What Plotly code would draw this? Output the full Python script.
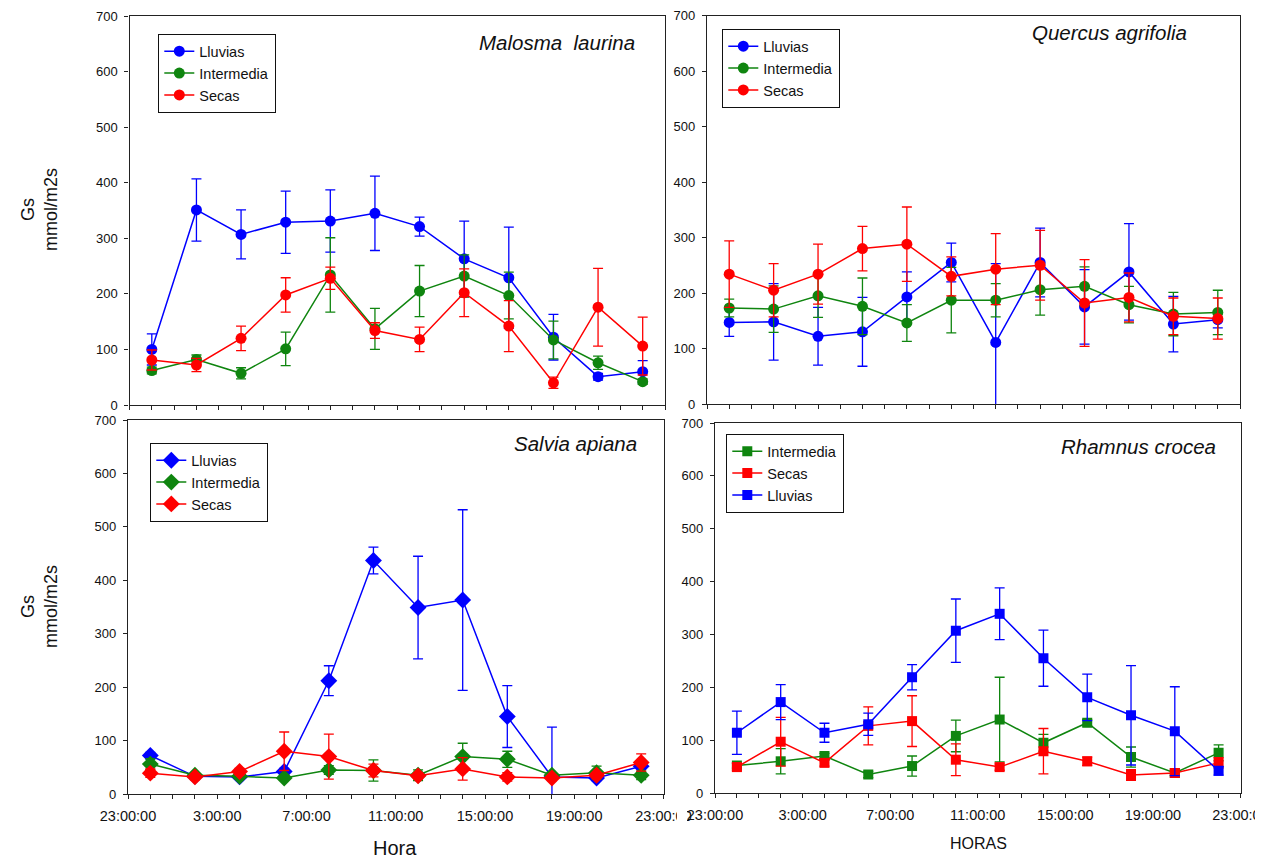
import plotly.graph_objects as go

# Sampling times, hours after midnight (axis spans 23:00 of the previous day to 23:00)
hours = [0, 2, 4, 6, 8, 10, 12, 14, 16, 18, 20, 22]
tick_hours = [-1, 3, 7, 11, 15, 19, 23]
tick_labels = ["23:00:00", "3:00:00", "7:00:00", "11:00:00", "15:00:00", "19:00:00", "23:00:00"]

# Malosma laurina
ml_lluvias = [100, 351, 307, 329, 331, 345, 321, 263, 229, 122, 51, 60]
ml_lluvias_err = [28, 56, 44, 56, 56, 67, 17, 68, 91, 41, 6, 20]
ml_intermedia = [62, 82, 57, 101, 234, 137, 205, 232, 197, 117, 76, 42]
ml_intermedia_err = [6, 8, 10, 30, 67, 37, 46, 38, 42, 34, 12, 5]
ml_secas = [81, 72, 120, 198, 228, 134, 118, 202, 142, 40, 176, 106]
ml_secas_err = [18, 12, 22, 31, 20, 14, 22, 43, 46, 10, 70, 52]

# Quercus agrifolia
qa_lluvias = [147, 148, 122, 130, 193, 255, 111, 255, 175, 238, 144, 152]
qa_lluvias_err = [25, 69, 52, 62, 45, 35, 142, 62, 67, 87, 50, 15]
qa_intermedia = [173, 171, 195, 176, 146, 187, 187, 206, 212, 179, 162, 165]
qa_intermedia_err = [16, 42, 39, 51, 33, 59, 30, 46, 35, 33, 39, 40]
qa_secas = [234, 205, 234, 280, 288, 230, 243, 250, 182, 192, 158, 154]
qa_secas_err = [60, 48, 54, 40, 67, 35, 64, 63, 78, 44, 33, 37]

# Salvia apiana
sa_lluvias = [72, 33, 32, 42, 212, 437, 349, 363, 145, 32, 30, 52]
sa_lluvias_err = [6, 3, 3, 6, 28, 25, 96, 169, 58, 93, 5, 5]
sa_intermedia = [56, 35, 33, 30, 45, 44, 35, 70, 65, 35, 40, 35]
sa_intermedia_err = [10, 5, 5, 3, 8, 20, 10, 25, 15, 5, 12, 8]
sa_secas = [39, 32, 42, 80, 70, 44, 34, 47, 32, 30, 35, 59]
sa_secas_err = [8, 5, 6, 36, 42, 12, 6, 21, 8, 5, 5, 16]

# Rhamnus crocea
rc_intermedia = [52, 60, 70, 35, 51, 108, 139, 95, 133, 68, 38, 76]
rc_intermedia_err = [5, 24, 5, 6, 19, 30, 80, 16, 6, 19, 4, 15]
rc_secas = [49, 97, 57, 127, 136, 63, 49, 79, 60, 34, 38, 57]
rc_secas_err = [7, 46, 6, 36, 48, 30, 6, 43, 8, 10, 5, 10]
rc_lluvias = [114, 172, 114, 130, 219, 307, 339, 255, 181, 147, 117, 42]
rc_lluvias_err = [41, 33, 18, 21, 24, 60, 49, 53, 44, 94, 84, 8]

W, H = 1269, 858
FONT = "Liberation Sans, Arial, sans-serif"
BLUE, GREEN, RED = "#0000ff", "#0f850f", "#ff0000"


def px(x):
    return x / W


def py(y):
    return 1 - y / H


# panel frames in pixels: (left, right, top, bottom)
panels = {
    1: (129.5, 665, 16, 405),
    2: (707, 1240, 15.5, 404),
    3: (128, 663.5, 420, 794),
    4: (715, 1240.5, 423, 793),
}

fig = go.Figure()


def add_series(n, name, y, err, color, symbol, size, legend):
    sfx = "" if n == 1 else str(n)
    fig.add_trace(go.Scatter(
        x=hours, y=y, name=name, mode="lines+markers",
        xaxis="x" + sfx, yaxis="y" + sfx, legend=legend,
        line=dict(color=color, width=1.5),
        marker=dict(color=color, symbol=symbol, size=size),
        error_y=dict(type="data", array=err, visible=True, color=color,
                     thickness=1.3, width=5),
    ))


add_series(1, "Lluvias", ml_lluvias, ml_lluvias_err, BLUE, "circle", 11, "legend")
add_series(1, "Intermedia", ml_intermedia, ml_intermedia_err, GREEN, "circle", 11, "legend")
add_series(1, "Secas", ml_secas, ml_secas_err, RED, "circle", 11, "legend")

add_series(2, "Lluvias", qa_lluvias, qa_lluvias_err, BLUE, "circle", 11, "legend2")
add_series(2, "Intermedia", qa_intermedia, qa_intermedia_err, GREEN, "circle", 11, "legend2")
add_series(2, "Secas", qa_secas, qa_secas_err, RED, "circle", 11, "legend2")

add_series(3, "Lluvias", sa_lluvias, sa_lluvias_err, BLUE, "diamond", 13, "legend3")
add_series(3, "Intermedia", sa_intermedia, sa_intermedia_err, GREEN, "diamond", 13, "legend3")
add_series(3, "Secas", sa_secas, sa_secas_err, RED, "diamond", 13, "legend3")

add_series(4, "Intermedia", rc_intermedia, rc_intermedia_err, GREEN, "square", 10, "legend4")
add_series(4, "Secas", rc_secas, rc_secas_err, RED, "square", 10, "legend4")
add_series(4, "Lluvias", rc_lluvias, rc_lluvias_err, BLUE, "square", 10, "legend4")

layout = dict(
    width=W, height=H,
    margin=dict(l=0, r=0, t=0, b=0, autoexpand=False),
    paper_bgcolor="white", plot_bgcolor="white",
    font=dict(family=FONT, color="#111111"),
    showlegend=True,
)

for n, (l, r, t, b) in panels.items():
    sfx = "" if n == 1 else str(n)
    bottom_row = n in (3, 4)
    layout["xaxis" + sfx] = dict(
        domain=[px(l), px(r)], anchor="y" + sfx,
        range=[-1, 23], tickmode="array", tickvals=tick_hours,
        ticktext=tick_labels if bottom_row else [""] * len(tick_hours),
        showticklabels=bottom_row,
        ticks="outside", ticklen=4, tickwidth=1, tickcolor="#222222",
        minor=dict(dtick=1, tick0=-1, ticks="outside", ticklen=4,
                   tickwidth=1, tickcolor="#222222", showgrid=False),
        showline=True, linecolor="#222222", linewidth=1.3, mirror=True,
        showgrid=False, zeroline=False, fixedrange=True,
        tickfont=dict(size=14.5, family=FONT, color="#111111"),
        ticklabelstandoff=4,
    )
    layout["yaxis" + sfx] = dict(
        domain=[py(b), py(t)], anchor="x" + sfx,
        range=[0, 700], tickmode="linear", tick0=0, dtick=100,
        ticks="outside", ticklen=4, tickwidth=1, tickcolor="#222222",
        showline=True, linecolor="#222222", linewidth=1.3, mirror=True,
        showgrid=False, zeroline=False, fixedrange=True,
        tickfont=dict(size=13, family=FONT, color="#111111"),
        ticklabelstandoff=4,
    )

legend_style = dict(
    xanchor="left", yanchor="top", bgcolor="white",
    bordercolor="#111111", borderwidth=1.3,
    font=dict(size=14.5, family=FONT, color="#111111"),
    itemwidth=30, tracegroupgap=0,
)
layout["legend"] = dict(x=px(158), y=py(34), **legend_style)
layout["legend2"] = dict(x=px(722), y=py(29), **legend_style)
layout["legend3"] = dict(x=px(150), y=py(443), **legend_style)
layout["legend4"] = dict(x=px(726), y=py(434), **legend_style)

fig.update_layout(**layout)

# species names inside each panel
species = [
    ("Malosma  laurina", 557, 42),
    ("Quercus agrifolia", 1109, 33),
    ("Salvia apiana", 575, 443),
    ("Rhamnus crocea", 1138, 447),
]
for text, cx, cy in species:
    fig.add_annotation(
        text="<i>" + text + "</i>", x=px(cx), y=py(cy), xref="paper", yref="paper",
        showarrow=False, xanchor="center", yanchor="middle",
        font=dict(size=20.5, family=FONT, color="#111111"),
    )

# y-axis titles of the left column
for cy in (210, 607):
    fig.add_annotation(
        text="Gs<br>mmol/m2s", x=px(39), y=py(cy), xref="paper", yref="paper",
        showarrow=False, textangle=-90, xanchor="center", yanchor="middle",
        font=dict(size=18, family=FONT, color="#111111"),
    )

# x-axis titles
fig.add_annotation(text="Hora", x=px(395), y=py(848), xref="paper", yref="paper",
                   showarrow=False, xanchor="center", yanchor="middle",
                   font=dict(size=20, family=FONT, color="#111111"))
fig.add_annotation(text="HORAS", x=px(978), y=py(843), xref="paper", yref="paper",
                   showarrow=False, xanchor="center", yanchor="middle",
                   font=dict(size=16, family=FONT, color="#111111"))

# trim the last tick label of each bottom panel at the panel edge
for x0, x1 in ((677, 687), (1255, 1269)):
    fig.add_shape(type="rect", xref="paper", yref="paper", layer="above",
                  x0=px(x0), x1=px(x1), y0=py(832), y1=py(800),
                  fillcolor="white", line=dict(width=0))

fig.write_html("out.html")
